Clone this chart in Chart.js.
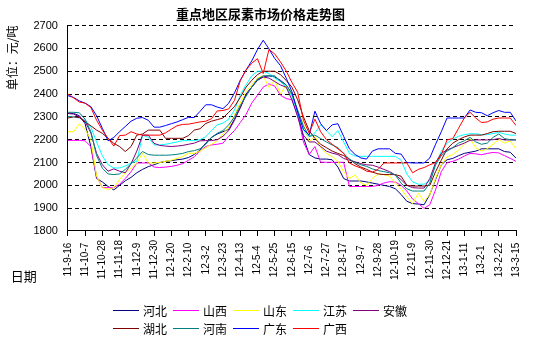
<!DOCTYPE html>
<html>
<head>
<meta charset="utf-8">
<script src="https://cdn.jsdelivr.net/npm/chart.js@4/dist/chart.umd.min.js"></script>
<style>
  body { margin: 0; background: #fff; }
  #wrap { position: relative; width: 545px; height: 340px; }
  #legend {
    position: absolute; left: 113px; top: 302px;
    display: grid; grid-template-columns: repeat(5, 60px); row-gap: 1px;
    font: 12px "Noto Sans CJK SC", sans-serif; color: #000;
  }
  .item { display: flex; align-items: center; height: 17px; }
  .item i { display: inline-block; width: 26px; height: 0; border-top: 1px solid; margin-right: 4px; }
</style>
</head>
<body>
<div id="wrap">
  <canvas id="chart" width="545" height="340"></canvas>
  <div id="legend"></div>
</div>
<script>
// weekly prices, 11-9-16 .. 13-3-15 (79 weeks), 元/吨
const tickLabels = ['11-9-16', '11-10-7', '11-10-28', '11-11-18', '11-12-9', '11-12-30', '12-1-20', '12-2-10', '12-3-2',
  '12-3-23', '12-4-13', '12-5-4', '12-5-25', '12-6-15', '12-7-6', '12-7-27', '12-8-17', '12-9-7', '12-9-28',
  '12-10-19', '12-11-9', '12-11-30', '12-12-21', '13-1-11', '13-2-1', '13-2-22', '13-3-15']

const regions = ['河北', '山西', '山东', '江苏', '安徽', '湖北', '河南', '广东', '广西']
const colors = ['#000080', '#FF00FF', '#FFFF00', '#00FFFF', '#800080', '#800000', '#008080', '#0000FF', '#FF0000']

const hebei = [2315,2315,2305,2270,2170,2030,2015,1995,1980,2000,2020,2035,2055,2070,2082,2090,2100,2105,2108,2112,2115,2122,2135,2155,2185,2210,2225,2235,
  2245,2290,2340,2400,2430,2460,2475,2480,2475,2460,2440,2400,2320,2210,2135,2120,2115,2115,2112,2080,2030,2019,2019,
  2019,2015,2010,2005,2000,1995,1985,1960,1930,1920,1918,1915,1960,2025,2090,2112,2118,2130,2140,2145,2150,2160,2160,2160,2160,2148,2145,2119]
const shanxi = [2197,2197,2197,2195,2170,2040,1990,1990,1990,2005,2030,2060,2098,2098,2098,2080,2078,2080,2083,2088,2095,2110,2125,2150,2170,2177,2180,2185,
  2215,2240,2275,2310,2360,2395,2430,2445,2435,2395,2380,2375,2310,2190,2135,2170,2101,2101,2101,2101,2101,1995,1995,
  1995,1995,1995,2000,2010,2016,2014,2000,1975,1940,1920,1899,1915,1980,2060,2100,2105,2115,2128,2140,2138,2134,2140,2144,2142,2130,2118,2105]
const shandong = [2235,2235,2270,2245,2200,2040,1990,1982,1990,2026,2055,2076,2098,2141,2098,2098,2100,2105,2110,2118,2127,2141,2140,2150,2165,2180,2195,2225,
  2255,2310,2360,2410,2440,2470,2480,2430,2460,2400,2440,2390,2325,2270,2190,2215,2165,2140,2125,2105,2060,2030,2045,
  2010,2000,2030,2050,2047,2040,2010,1985,1950,1920,1965,1930,1960,2030,2090,2125,2135,2155,2180,2205,2165,2150,2160,2180,2200,2185,2195,2160]
const jiangsu = [2300,2300,2295,2285,2255,2190,2130,2090,2076,2076,2085,2098,2105,2220,2210,2177,2177,2180,2185,2190,2196,2196,2196,2200,2213,2240,2265,2273,
  2290,2330,2395,2440,2480,2500,2500,2490,2470,2455,2430,2390,2315,2240,2213,2230,2265,2240,2213,2240,2190,2140,2128,
  2127,2127,2127,2127,2127,2127,2127,2110,2050,2015,2005,2005,2020,2090,2150,2185,2203,2215,2222,2226,2226,2222,2222,2227,2232,2225,2220,2220]
const anhui = [2315,2312,2300,2280,2230,2140,2090,2062,2072,2062,2055,2095,2150,2220,2220,2184,2175,2172,2170,2172,2175,2180,2185,2195,2196,2196,2200,2215,
  2240,2285,2340,2395,2430,2465,2475,2470,2455,2440,2430,2375,2300,2220,2190,2190,2170,2150,2141,2135,2118,2110,2103,
  2095,2090,2088,2080,2070,2060,2045,2025,2000,1990,1988,1988,2030,2100,2140,2155,2165,2175,2185,2197,2199,2199,2199,2200,2205,2199,2199,2199]
const hubei = [2295,2300,2297,2278,2261,2242,2228,2206,2184,2170,2148,2170,2220,2225,2242,2242,2242,2206,2206,2206,2206,2218,2242,2248,2271,2281,2288,2295,
  2320,2345,2385,2430,2460,2485,2500,2500,2500,2485,2460,2430,2375,2300,2240,2205,2180,2165,2150,2140,2130,2115,2095,
  2080,2070,2058,2050,2047,2047,2047,2040,2000,1997,1997,1997,2000,2060,2110,2160,2185,2200,2212,2220,2220,2220,2227,2235,2237,2237,2237,2227]
const henan = [2320,2320,2318,2290,2235,2130,2075,2050,2047,2050,2070,2095,2120,2148,2135,2132,2132,2132,2133,2136,2140,2148,2152,2160,2180,2210,2228,2240,
  2265,2300,2350,2390,2430,2465,2480,2480,2480,2455,2440,2400,2330,2260,2215,2220,2205,2190,2177,2165,2140,2115,2100,
  2090,2083,2072,2065,2060,2055,2045,2010,1985,1975,1975,1975,2010,2090,2130,2150,2165,2185,2195,2210,2190,2180,2185,2210,2225,2205,2200,2199]
const guangdong = [2393,2385,2370,2360,2345,2305,2250,2195,2210,2235,2258,2281,2294,2297,2285,2255,2255,2262,2270,2278,2288,2298,2297,2324,2353,2353,2343,2336,
  2360,2405,2460,2505,2545,2595,2636,2598,2556,2525,2470,2410,2320,2245,2220,2325,2270,2240,2265,2270,2215,2160,2135,
  2120,2115,2150,2160,2160,2160,2140,2137,2100,2098,2098,2098,2120,2180,2235,2295,2295,2295,2295,2330,2320,2318,2305,2318,2328,2320,2320,2282]
const guangxi = [2400,2383,2365,2360,2341,2285,2242,2206,2172,2218,2220,2235,2225,2220,2220,2220,2220,2230,2246,2261,2267,2268,2273,2278,2281,2292,2326,2328,
  2335,2372,2458,2505,2535,2555,2490,2595,2576,2541,2501,2451,2408,2285,2228,2290,2235,2200,2180,2160,2140,2098,2085,
  2076,2062,2058,2070,2098,2098,2098,2098,2098,2055,2070,2078,2090,2100,2135,2199,2205,2250,2295,2320,2295,2275,2278,2290,2295,2295,2295,2262]

const series = [hebei, shanxi, shandong, jiangsu, anhui, hubei, henan, guangdong, guangxi]

const datasets = series.map((values, n) => ({
  label: regions[n],
  data: values.map((v, i) => ({ x: i, y: v })),
  borderColor: colors[n],
  borderWidth: 1,
  pointRadius: 0,
  tension: 0,
  order: -n   // later series on top
}))

// "日期" caption at the lower left, beside the date labels
const dateCaption = {
  id: 'dateCaption',
  afterDraw(chart) {
    const c = chart.ctx
    c.save()
    c.font = '13px "Noto Sans CJK SC"'
    c.fillStyle = '#000'
    c.textBaseline = 'middle'
    c.fillText('日期', chart.chartArea.left - 57, chart.scales.x.bottom - 8)
    c.restore()
  }
}

const tickFont = { family: 'Liberation Sans', size: 10 }

new Chart(document.getElementById('chart').getContext('2d'), {
  type: 'line',
  data: { datasets: datasets },
  options: {
    responsive: false,
    animation: false,
    layout: { padding: { left: 5, right: 29, top: 0, bottom: 56 } },
    plugins: {
      legend: { display: false },
      tooltip: { enabled: false },
      title: {
        display: true,
        text: '重点地区尿素市场价格走势图',
        color: '#000',
        font: { family: 'Noto Sans CJK SC', size: 13, weight: 'bold' },
        padding: { top: 6, bottom: 4 }
      }
    },
    scales: {
      x: {
        type: 'linear',
        min: 0,
        max: 78,
        ticks: {
          stepSize: 3,
          autoSkip: false,
          minRotation: 90,
          maxRotation: 90,
          padding: 4,
          color: '#000',
          font: tickFont,
          // pad short dates so the rotated labels sit centred
          callback: v => {
            const s = tickLabels[v / 3]
            return s === undefined ? '' : s + ' '.repeat(8 - s.length)
          }
        },
        grid: { drawOnChartArea: false, color: '#000', tickLength: 5 },
        border: { color: '#000', width: 1 }
      },
      y: {
        min: 1800,
        max: 2700,
        ticks: {
          stepSize: 100,
          padding: 10,
          color: '#000',
          font: { family: 'Liberation Sans', size: 11 },
          callback: v => String(v)
        },
        grid: { color: '#000', drawTicks: false },
        border: { color: '#000', width: 1, dash: [4, 3] },
        title: {
          display: true,
          text: '单位：元/吨',
          align: 'end',
          color: '#000',
          font: { family: 'Noto Sans CJK SC', size: 12 },
          padding: { top: 0, bottom: 4 }
        }
      }
    }
  },
  plugins: [dateCaption]
})

// legend: two rows of line swatches under the chart
const legend = document.getElementById('legend')
regions.forEach((name, n) => {
  const item = document.createElement('div')
  item.className = 'item'
  item.innerHTML = '<i style="border-color:' + colors[n] + '"></i>' + name
  legend.appendChild(item)
})
</script>
</body>
</html>
